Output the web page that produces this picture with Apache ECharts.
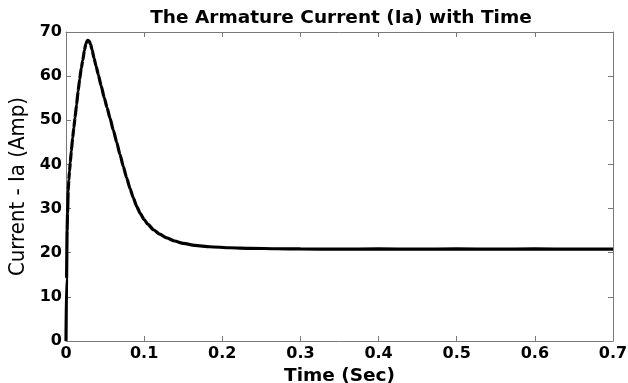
<!DOCTYPE html>
<html>
<head>
<meta charset="utf-8">
<script src="https://cdn.jsdelivr.net/npm/echarts@6/dist/echarts.min.js"></script>
<style>
  html, body { margin: 0; padding: 0; background: #fff; }
  #chart { width: 628px; height: 383px; }
</style>
</head>
<body>
<div id="chart"></div>
<script>
// values
var timeSec = [0, 0.0007, 0.0014, 0.002, 0.0028, 0.0036, 0.0045, 0.0055, 0.0068, 0.0085,
  0.01, 0.0115, 0.0135, 0.0155, 0.0175, 0.0195, 0.0215, 0.0235, 0.0255, 0.0275,
  0.0295, 0.0315, 0.0335, 0.0358, 0.0385, 0.0414, 0.045, 0.049, 0.0525, 0.0563,
  0.0605, 0.0649, 0.069, 0.0734, 0.0775, 0.082, 0.086, 0.0905, 0.095, 0.1,
  0.105, 0.112, 0.12, 0.129, 0.139, 0.15, 0.165, 0.184, 0.21, 0.236,
  0.27, 0.3, 0.35, 0.4, 0.45, 0.5, 0.55, 0.6, 0.65, 0.7]
var currentAmp = [0, 14, 25, 29, 34, 36.5, 38.5, 40.5, 43, 46,
  48.3, 50.5, 53.5, 56.6, 59.3, 61.8, 63.6, 65.8, 67.4, 68.1,
  68.0, 67.2, 65.9, 64.1, 62.3, 60.3, 57.8, 55.1, 52.9, 50.5,
  47.8, 45.0, 42.3, 39.5, 37.0, 34.5, 32.5, 30.5, 28.9, 27.5,
  26.4, 25.2, 24.2, 23.35, 22.65, 22.1, 21.65, 21.35, 21.12, 21.0,
  20.9, 20.85, 20.8, 20.85, 20.8, 20.85, 20.8, 20.85, 20.8, 20.8]
var xTicks = [0, 0.7, 0.1]   // min, max, step
var yTicks = [0, 70, 10]

var chart = echarts.init(document.getElementById('chart'))
var boxColor = '#7a7a7a'
var labelFont = { color: '#000', fontFamily: 'DejaVu Sans', fontWeight: 'bold', fontSize: 16 }

chart.setOption({
  animation: false,
  backgroundColor: '#fff',
  title: {
    text: 'The Armature Current (Ia) with Time',
    left: 336,
    top: 4,
    textAlign: 'center',
    textStyle: { color: '#000', fontFamily: 'DejaVu Sans', fontWeight: 'bold', fontSize: 18.5 }
  },
  grid: { left: 66, right: 15, top: 32, bottom: 42, containLabel: false, outerBoundsMode: 'none' },
  xAxis: [
    {
      type: 'value',
      min: xTicks[0],
      max: xTicks[1],
      interval: xTicks[2],
      name: 'Time (Sec)',
      nameLocation: 'middle',
      nameGap: 20,
      nameTextStyle: { color: '#000', fontFamily: 'DejaVu Sans', fontWeight: 'bold', fontSize: 18.5 },
      axisLine: { show: true, onZero: false, lineStyle: { color: boxColor } },
      axisTick: { show: true, inside: true, length: 5, lineStyle: { color: boxColor } },
      axisLabel: Object.assign({ margin: 5, showMaxLabel: true, showMinLabel: true }, labelFont),
      splitLine: { show: false }
    },
    {
      type: 'value',
      position: 'top',
      min: xTicks[0],
      max: xTicks[1],
      interval: xTicks[2],
      axisLine: { show: true, onZero: false, lineStyle: { color: boxColor } },
      axisTick: { show: true, inside: true, length: 5, lineStyle: { color: boxColor } },
      axisLabel: { show: false },
      splitLine: { show: false }
    }
  ],
  yAxis: [
    {
      type: 'value',
      min: yTicks[0],
      max: yTicks[1],
      interval: yTicks[2],
      name: 'Current - Ia (Amp)',
      nameLocation: 'middle',
      nameGap: 36,
      nameTextStyle: { color: '#000', fontFamily: 'DejaVu Sans Condensed', fontSize: 22 },
      axisLine: { show: true, onZero: false, lineStyle: { color: boxColor } },
      axisTick: { show: true, inside: true, length: 5, lineStyle: { color: boxColor } },
      axisLabel: Object.assign({ margin: 4 }, labelFont),
      splitLine: { show: false }
    },
    {
      type: 'value',
      position: 'right',
      min: yTicks[0],
      max: yTicks[1],
      interval: yTicks[2],
      axisLine: { show: true, onZero: false, lineStyle: { color: boxColor } },
      axisTick: { show: true, inside: true, length: 5, lineStyle: { color: boxColor } },
      axisLabel: { show: false },
      splitLine: { show: false }
    }
  ],
  series: [
    {
      type: 'line',
      data: timeSec.map(function (t, i) { return [t, currentAmp[i]] }),
      showSymbol: false,
      smooth: 0.2,
      smoothMonotone: 'x',
      lineStyle: { color: '#000', width: 3.2 },
      z: 1
    }
  ]
})
</script>
</body>
</html>
